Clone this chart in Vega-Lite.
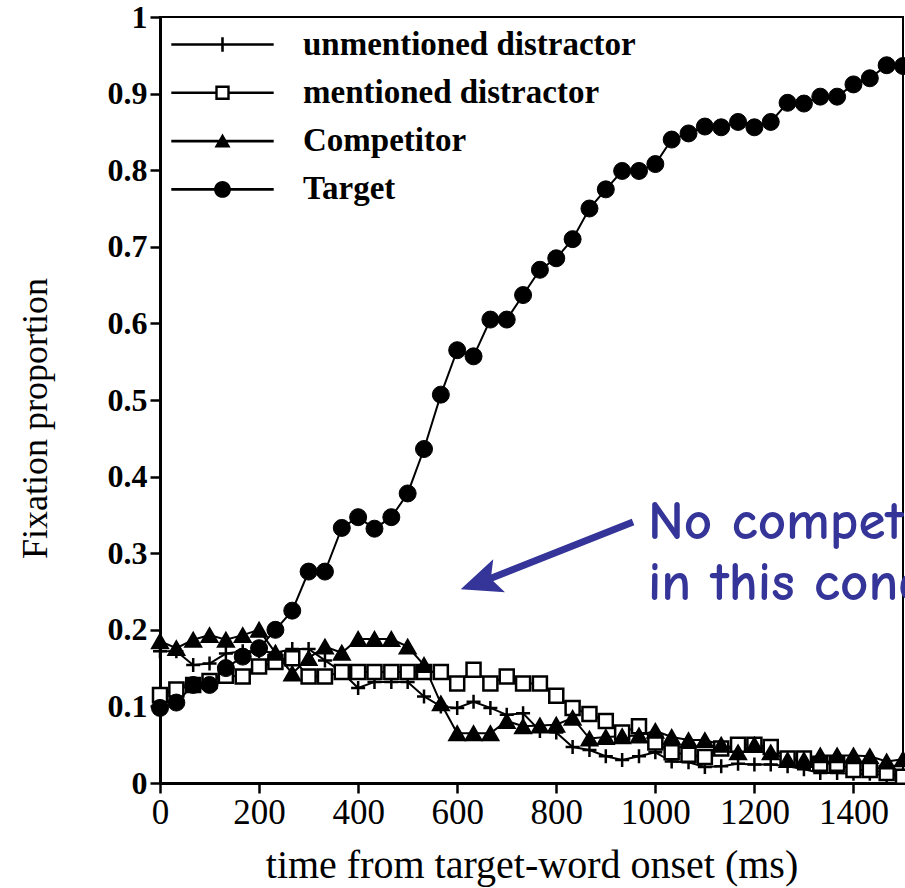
{
  "$schema": "https://vega.github.io/schema/vega-lite/v6.json",
  "width": 743,
  "height": 766,
  "autosize": {"type": "none"},
  "padding": {"left": 160, "top": 17, "right": 2, "bottom": 105},
  "background": "white",
  "config": {
    "view": {"stroke": "black", "strokeWidth": 2},
    "font": "Liberation Serif",
    "legend": {
      "title": null, "orient": "none", "legendX": 46, "legendY": 11,
      "padding": 0, "symbolSize": 256, "labelOffset": 64, "rowPadding": 14.3,
      "labelFont": "Liberation Serif", "labelFontSize": 33, "labelFontWeight": "bold", "labelColor": "black", "labelLimit": 600,
      "symbolOpacity": 1, "symbolFillColor": "black"
    }
  },
  "datasets": {
    "fix": [
      {"t":0,"v":0.172,"s":"unmentioned distractor"},{"t":33,"v":0.172,"s":"unmentioned distractor"},{"t":67,"v":0.154,"s":"unmentioned distractor"},{"t":100,"v":0.156,"s":"unmentioned distractor"},{"t":133,"v":0.169,"s":"unmentioned distractor"},{"t":167,"v":0.172,"s":"unmentioned distractor"},{"t":200,"v":0.172,"s":"unmentioned distractor"},{"t":233,"v":0.17,"s":"unmentioned distractor"},{"t":267,"v":0.175,"s":"unmentioned distractor"},{"t":300,"v":0.175,"s":"unmentioned distractor"},{"t":333,"v":0.16,"s":"unmentioned distractor"},{"t":367,"v":0.145,"s":"unmentioned distractor"},{"t":400,"v":0.124,"s":"unmentioned distractor"},{"t":433,"v":0.132,"s":"unmentioned distractor"},{"t":467,"v":0.132,"s":"unmentioned distractor"},{"t":500,"v":0.132,"s":"unmentioned distractor"},{"t":533,"v":0.113,"s":"unmentioned distractor"},{"t":567,"v":0.1,"s":"unmentioned distractor"},{"t":600,"v":0.098,"s":"unmentioned distractor"},{"t":633,"v":0.106,"s":"unmentioned distractor"},{"t":667,"v":0.098,"s":"unmentioned distractor"},{"t":700,"v":0.089,"s":"unmentioned distractor"},{"t":733,"v":0.091,"s":"unmentioned distractor"},{"t":767,"v":0.068,"s":"unmentioned distractor"},{"t":800,"v":0.066,"s":"unmentioned distractor"},{"t":833,"v":0.047,"s":"unmentioned distractor"},{"t":867,"v":0.043,"s":"unmentioned distractor"},{"t":900,"v":0.035,"s":"unmentioned distractor"},{"t":933,"v":0.03,"s":"unmentioned distractor"},{"t":967,"v":0.035,"s":"unmentioned distractor"},{"t":1000,"v":0.04,"s":"unmentioned distractor"},{"t":1033,"v":0.028,"s":"unmentioned distractor"},{"t":1067,"v":0.027,"s":"unmentioned distractor"},{"t":1100,"v":0.021,"s":"unmentioned distractor"},{"t":1133,"v":0.022,"s":"unmentioned distractor"},{"t":1167,"v":0.025,"s":"unmentioned distractor"},{"t":1200,"v":0.024,"s":"unmentioned distractor"},{"t":1233,"v":0.024,"s":"unmentioned distractor"},{"t":1267,"v":0.022,"s":"unmentioned distractor"},{"t":1300,"v":0.018,"s":"unmentioned distractor"},{"t":1333,"v":0.013,"s":"unmentioned distractor"},{"t":1367,"v":0.013,"s":"unmentioned distractor"},{"t":1400,"v":0.012,"s":"unmentioned distractor"},{"t":1433,"v":0.012,"s":"unmentioned distractor"},{"t":1467,"v":0.01,"s":"unmentioned distractor"},{"t":1500,"v":0.01,"s":"unmentioned distractor"},
      {"t":0,"v":0.115,"s":"mentioned distractor"},{"t":33,"v":0.122,"s":"mentioned distractor"},{"t":67,"v":0.128,"s":"mentioned distractor"},{"t":100,"v":0.133,"s":"mentioned distractor"},{"t":133,"v":0.14,"s":"mentioned distractor"},{"t":167,"v":0.139,"s":"mentioned distractor"},{"t":200,"v":0.152,"s":"mentioned distractor"},{"t":233,"v":0.158,"s":"mentioned distractor"},{"t":267,"v":0.163,"s":"mentioned distractor"},{"t":300,"v":0.139,"s":"mentioned distractor"},{"t":333,"v":0.139,"s":"mentioned distractor"},{"t":367,"v":0.145,"s":"mentioned distractor"},{"t":400,"v":0.145,"s":"mentioned distractor"},{"t":433,"v":0.145,"s":"mentioned distractor"},{"t":467,"v":0.145,"s":"mentioned distractor"},{"t":500,"v":0.145,"s":"mentioned distractor"},{"t":533,"v":0.145,"s":"mentioned distractor"},{"t":567,"v":0.145,"s":"mentioned distractor"},{"t":600,"v":0.13,"s":"mentioned distractor"},{"t":633,"v":0.148,"s":"mentioned distractor"},{"t":667,"v":0.13,"s":"mentioned distractor"},{"t":700,"v":0.139,"s":"mentioned distractor"},{"t":733,"v":0.13,"s":"mentioned distractor"},{"t":767,"v":0.13,"s":"mentioned distractor"},{"t":800,"v":0.114,"s":"mentioned distractor"},{"t":833,"v":0.098,"s":"mentioned distractor"},{"t":867,"v":0.09,"s":"mentioned distractor"},{"t":900,"v":0.081,"s":"mentioned distractor"},{"t":933,"v":0.066,"s":"mentioned distractor"},{"t":967,"v":0.074,"s":"mentioned distractor"},{"t":1000,"v":0.053,"s":"mentioned distractor"},{"t":1033,"v":0.04,"s":"mentioned distractor"},{"t":1067,"v":0.037,"s":"mentioned distractor"},{"t":1100,"v":0.034,"s":"mentioned distractor"},{"t":1133,"v":0.045,"s":"mentioned distractor"},{"t":1167,"v":0.05,"s":"mentioned distractor"},{"t":1200,"v":0.05,"s":"mentioned distractor"},{"t":1233,"v":0.047,"s":"mentioned distractor"},{"t":1267,"v":0.032,"s":"mentioned distractor"},{"t":1300,"v":0.032,"s":"mentioned distractor"},{"t":1333,"v":0.025,"s":"mentioned distractor"},{"t":1367,"v":0.025,"s":"mentioned distractor"},{"t":1400,"v":0.017,"s":"mentioned distractor"},{"t":1433,"v":0.017,"s":"mentioned distractor"},{"t":1467,"v":0.013,"s":"mentioned distractor"},{"t":1500,"v":0.008,"s":"mentioned distractor"},
      {"t":0,"v":0.185,"s":"Competitor"},{"t":33,"v":0.176,"s":"Competitor"},{"t":67,"v":0.187,"s":"Competitor"},{"t":100,"v":0.193,"s":"Competitor"},{"t":133,"v":0.187,"s":"Competitor"},{"t":167,"v":0.193,"s":"Competitor"},{"t":200,"v":0.2,"s":"Competitor"},{"t":233,"v":0.17,"s":"Competitor"},{"t":267,"v":0.143,"s":"Competitor"},{"t":300,"v":0.163,"s":"Competitor"},{"t":333,"v":0.178,"s":"Competitor"},{"t":367,"v":0.17,"s":"Competitor"},{"t":400,"v":0.188,"s":"Competitor"},{"t":433,"v":0.188,"s":"Competitor"},{"t":467,"v":0.188,"s":"Competitor"},{"t":500,"v":0.178,"s":"Competitor"},{"t":533,"v":0.154,"s":"Competitor"},{"t":567,"v":0.104,"s":"Competitor"},{"t":600,"v":0.065,"s":"Competitor"},{"t":633,"v":0.065,"s":"Competitor"},{"t":667,"v":0.065,"s":"Competitor"},{"t":700,"v":0.081,"s":"Competitor"},{"t":733,"v":0.074,"s":"Competitor"},{"t":767,"v":0.075,"s":"Competitor"},{"t":800,"v":0.076,"s":"Competitor"},{"t":833,"v":0.085,"s":"Competitor"},{"t":867,"v":0.058,"s":"Competitor"},{"t":900,"v":0.06,"s":"Competitor"},{"t":933,"v":0.061,"s":"Competitor"},{"t":967,"v":0.062,"s":"Competitor"},{"t":1000,"v":0.068,"s":"Competitor"},{"t":1033,"v":0.06,"s":"Competitor"},{"t":1067,"v":0.056,"s":"Competitor"},{"t":1100,"v":0.056,"s":"Competitor"},{"t":1133,"v":0.05,"s":"Competitor"},{"t":1167,"v":0.04,"s":"Competitor"},{"t":1200,"v":0.05,"s":"Competitor"},{"t":1233,"v":0.04,"s":"Competitor"},{"t":1267,"v":0.03,"s":"Competitor"},{"t":1300,"v":0.03,"s":"Competitor"},{"t":1333,"v":0.036,"s":"Competitor"},{"t":1367,"v":0.036,"s":"Competitor"},{"t":1400,"v":0.036,"s":"Competitor"},{"t":1433,"v":0.035,"s":"Competitor"},{"t":1467,"v":0.028,"s":"Competitor"},{"t":1500,"v":0.031,"s":"Competitor"},
      {"t":0,"v":0.098,"s":"Target"},{"t":33,"v":0.105,"s":"Target"},{"t":67,"v":0.128,"s":"Target"},{"t":100,"v":0.128,"s":"Target"},{"t":133,"v":0.15,"s":"Target"},{"t":167,"v":0.165,"s":"Target"},{"t":200,"v":0.176,"s":"Target"},{"t":233,"v":0.2,"s":"Target"},{"t":267,"v":0.225,"s":"Target"},{"t":300,"v":0.276,"s":"Target"},{"t":333,"v":0.276,"s":"Target"},{"t":367,"v":0.333,"s":"Target"},{"t":400,"v":0.347,"s":"Target"},{"t":433,"v":0.332,"s":"Target"},{"t":467,"v":0.347,"s":"Target"},{"t":500,"v":0.378,"s":"Target"},{"t":533,"v":0.436,"s":"Target"},{"t":567,"v":0.507,"s":"Target"},{"t":600,"v":0.565,"s":"Target"},{"t":633,"v":0.557,"s":"Target"},{"t":667,"v":0.605,"s":"Target"},{"t":700,"v":0.605,"s":"Target"},{"t":733,"v":0.637,"s":"Target"},{"t":767,"v":0.67,"s":"Target"},{"t":800,"v":0.685,"s":"Target"},{"t":833,"v":0.71,"s":"Target"},{"t":867,"v":0.75,"s":"Target"},{"t":900,"v":0.775,"s":"Target"},{"t":933,"v":0.799,"s":"Target"},{"t":967,"v":0.799,"s":"Target"},{"t":1000,"v":0.808,"s":"Target"},{"t":1033,"v":0.84,"s":"Target"},{"t":1067,"v":0.848,"s":"Target"},{"t":1100,"v":0.857,"s":"Target"},{"t":1133,"v":0.856,"s":"Target"},{"t":1167,"v":0.863,"s":"Target"},{"t":1200,"v":0.856,"s":"Target"},{"t":1233,"v":0.863,"s":"Target"},{"t":1267,"v":0.888,"s":"Target"},{"t":1300,"v":0.887,"s":"Target"},{"t":1333,"v":0.896,"s":"Target"},{"t":1367,"v":0.896,"s":"Target"},{"t":1400,"v":0.912,"s":"Target"},{"t":1433,"v":0.92,"s":"Target"},{"t":1467,"v":0.937,"s":"Target"},{"t":1500,"v":0.936,"s":"Target"}
    ],
    "note": [{"label": ["No competitor", "in this condition"]}]
  },
  "layer": [
    {
      "data": {"name": "fix"},
      "mark": {"type": "line", "color": "black", "strokeWidth": 2},
      "encoding": {
        "x": {
          "field": "t", "type": "quantitative",
          "scale": {"domain": [0, 1500], "nice": false, "zero": false},
          "axis": {
            "values": [0, 200, 400, 600, 800, 1000, 1200, 1400],
            "format": "d",
            "grid": false,
            "domainColor": "black", "domainWidth": 3,
            "tickColor": "black", "tickSize": 10, "tickWidth": 2.5,
            "labelFont": "Liberation Serif", "labelFontSize": 35, "labelColor": "black", "labelPadding": 2,
            "labelFlush": false, "labelOverlap": false,
            "title": "time from target-word onset (ms)",
            "titleFont": "Liberation Serif", "titleFontSize": 40, "titleFontWeight": "normal", "titleColor": "black",
            "titleY": 82, "titleBaseline": "middle"
          }
        },
        "y": {
          "field": "v", "type": "quantitative",
          "scale": {"domain": [0, 1], "nice": false},
          "axis": {
            "values": [0, 0.1, 0.2, 0.3, 0.4, 0.5, 0.6, 0.7, 0.8, 0.9, 1],
            "format": ".1~f",
            "grid": false,
            "domainColor": "black", "domainWidth": 3,
            "tickColor": "black", "tickSize": 10, "tickWidth": 2.5,
            "labelFont": "Liberation Serif", "labelFontSize": 32, "labelFontWeight": "bold", "labelColor": "black", "labelPadding": 3,
            "labelFlush": false, "labelOverlap": false,
            "title": "Fixation proportion",
            "titleFont": "Liberation Serif", "titleFontSize": 36, "titleFontWeight": "normal", "titleColor": "black",
            "titleAngle": -90, "titleX": -125, "titleY": 401, "titleBaseline": "middle", "titleAlign": "center"
          }
        },
        "detail": {"field": "s"}
      }
    },
    {
      "data": {"name": "fix"},
      "transform": [{"filter": "datum.s === 'unmentioned distractor'"}],
      "mark": {"type": "point", "shape": "M-1,0H1M0,-1V1", "size": 196, "filled": false, "stroke": "black", "strokeWidth": 2.5, "opacity": 1},
      "encoding": {"x": {"field": "t", "type": "quantitative"}, "y": {"field": "v", "type": "quantitative"}}
    },
    {
      "data": {"name": "fix"},
      "transform": [{"filter": "datum.s === 'mentioned distractor'"}],
      "mark": {"type": "point", "shape": "square", "size": 196, "filled": true, "fill": "white", "stroke": "black", "strokeWidth": 2.5, "opacity": 1},
      "encoding": {"x": {"field": "t", "type": "quantitative"}, "y": {"field": "v", "type": "quantitative"}}
    },
    {
      "data": {"name": "fix"},
      "transform": [{"filter": "datum.s === 'Competitor'"}],
      "mark": {"type": "point", "shape": "triangle-up", "size": 256, "filled": true, "fill": "black", "stroke": "black", "strokeWidth": 2, "opacity": 1},
      "encoding": {"x": {"field": "t", "type": "quantitative"}, "y": {"field": "v", "type": "quantitative"}}
    },
    {
      "data": {"name": "fix"},
      "transform": [{"filter": "datum.s === 'Target'"}],
      "mark": {"type": "point", "shape": "circle", "size": 289, "filled": true, "fill": "black", "stroke": "black", "strokeWidth": 1, "opacity": 1},
      "encoding": {"x": {"field": "t", "type": "quantitative"}, "y": {"field": "v", "type": "quantitative"}}
    },
    {
      "data": {"name": "fix"},
      "transform": [{"filter": "false"}],
      "mark": {"type": "point", "filled": true, "color": "black", "strokeWidth": 0, "opacity": 1},
      "encoding": {
        "x": {"field": "t", "type": "quantitative"},
        "y": {"field": "v", "type": "quantitative"},
        "shape": {
          "field": "s", "type": "nominal",
          "scale": {
            "domain": ["unmentioned distractor", "mentioned distractor", "Competitor", "Target"],
            "range": [
              "M-6.4,-0.16H6.4V0.16H-6.4ZM-0.16,-0.9H0.16V0.9H-0.16Z",
              "M-6.4,-0.16H-0.9V0.16H-6.4ZM0.9,-0.16H6.4V0.16H0.9ZM-0.9,-0.9H0.9V0.9H-0.9ZM-0.6,-0.6V0.6H0.6V-0.6Z",
              "M-6.4,-0.16H6.4V0.16H-6.4ZM0,-0.95L1,0.8L-1,0.8Z",
              "M-6.4,-0.16H6.4V0.16H-6.4ZM1.05,0A1.05,1.05,0,1,1,-1.05,0A1.05,1.05,0,1,1,1.05,0Z"
            ]
          },
          "legend": {}
        }
      }
    },
    {
      "data": {"name": "note"},
      "mark": {"type": "rule", "color": "#343499", "strokeWidth": 7, "strokeCap": "butt"},
      "encoding": {
        "x": {"datum": 955, "type": "quantitative"}, "y": {"datum": 0.3407, "type": "quantitative"},
        "x2": {"datum": 649}, "y2": {"datum": 0.2624}
      }
    },
    {
      "data": {"name": "note"},
      "mark": {"type": "point", "shape": "M0,-1L0.8,0.85L0,0.45L-0.8,0.85Z", "size": 1936, "angle": 250.5, "filled": true, "color": "#343499", "opacity": 1, "strokeWidth": 0},
      "encoding": {"x": {"datum": 649, "type": "quantitative"}, "y": {"datum": 0.2624, "type": "quantitative"}}
    },
    {
      "data": {"name": "note"},
      "mark": {"type": "text", "font": "Comic Sans MS, Comic Neue, DejaVu Sans", "fontSize": 55, "fontWeight": "bold", "color": "#343499", "align": "left", "baseline": "alphabetic", "lineHeight": 61},
      "encoding": {"x": {"datum": 985, "type": "quantitative"}, "y": {"datum": 0.3185, "type": "quantitative"}, "text": {"field": "label"}}
    }
  ]
}
